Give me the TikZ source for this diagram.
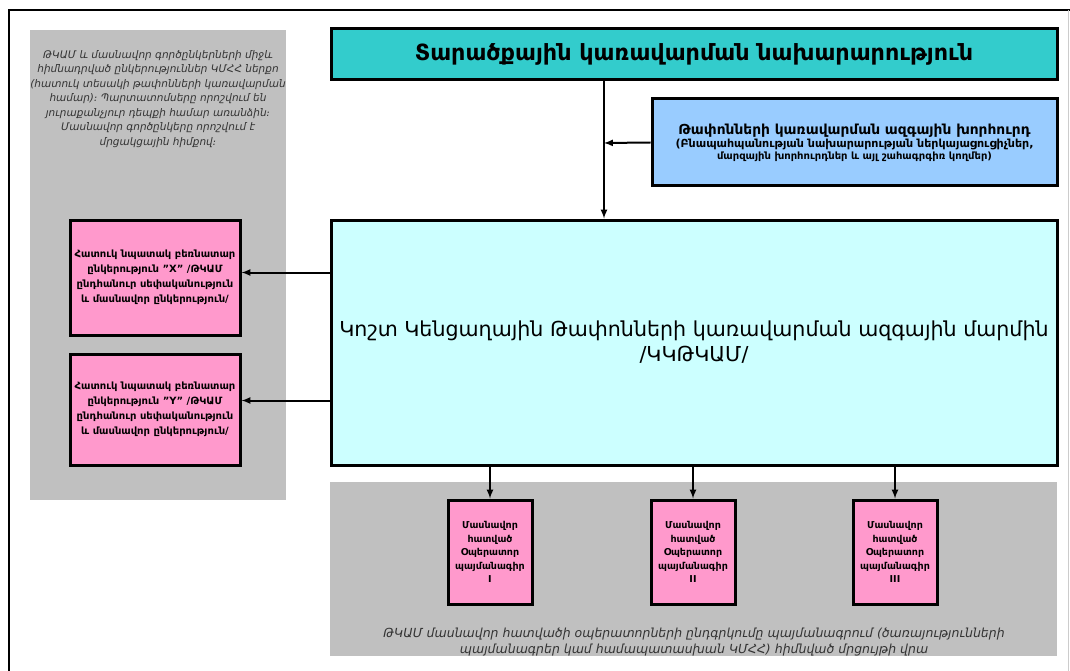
\documentclass[tikz,border=0pt]{standalone}
\usepackage{fontspec}
\setmainfont{DejaVu Sans}
\usetikzlibrary{positioning}
\definecolor{teal1}{HTML}{33CCCC}
\definecolor{sky1}{HTML}{99CCFF}
\definecolor{cyan1}{HTML}{CCFFFF}
\definecolor{pink1}{HTML}{FF99CC}
\definecolor{panel}{HTML}{C0C0C0}
\definecolor{note}{HTML}{333333}

\begin{document}
\begin{tikzpicture}[x=1pt, y=-1pt, >=latex,
  box/.style={draw=black, line width=3pt, align=center, inner sep=2pt},
  arr/.style={->, line width=2pt},
  notetext/.style={align=center, text=note, font=\itshape\fontsize{10.5}{14.5}\selectfont}]
\useasboundingbox (0,0) rectangle (1070,671);
% frame and grey panels
\draw[line width=2pt] (9,671) -- (9,10) -- (1070,10);
\draw[gray!40, line width=1pt] (1068,10) -- (1068,671);
\fill[panel] (30,30) rectangle (286,500);
\fill[panel] (330,482) rectangle (1057,656);
% boxes
\node[box, fill=teal1, minimum width=726pt, minimum height=51pt, font=\bfseries\fontsize{22.3}{26}\selectfont] (top) at (694,54.5) {Տարածքային կառավարման նախարարություն};
\node[box, fill=sky1, minimum width=405pt, minimum height=87pt, font=\bfseries] (coun) at (854.5,142.5)
  {\fontsize{13.8}{19}\selectfont Թափոնների կառավարման ազգային խորհուրդ\\[1pt]
   \fontsize{11.1}{16}\selectfont (Բնապահպանության նախարարության ներկայացուցիչներ,\\ մարզային խորհուրդներ և այլ շահագրգիռ կողմեր)};
\node[box, fill=cyan1, minimum width=726pt, minimum height=245pt, font=\fontsize{20.6}{25}\selectfont] (body) at (694,342.5)
  {Կոշտ Կենցաղային Թափոնների կառավարման ազգային մարմին\\ /ԿԿԹԿԱՄ/};
\node[box, fill=pink1, minimum width=170pt, minimum height=115pt, font=\bfseries\fontsize{10}{15}\selectfont] (compX) at (155,277.5)
  {Հատուկ նպատակ բեռնատար\\ ընկերություն "X" /ԹԿԱՄ\\ ընդհանուր սեփականություն\\ և մասնավոր ընկերություն/};
\node[box, fill=pink1, minimum width=170pt, minimum height=111pt, font=\bfseries\fontsize{10}{15}\selectfont] (compY) at (155,409.5)
  {Հատուկ նպատակ բեռնատար\\ ընկերություն "Y" /ԹԿԱՄ\\ ընդհանուր սեփականություն\\ և մասնավոր ընկերություն/};
\node[box, fill=pink1, minimum width=84pt, minimum height=104pt, font=\bfseries\fontsize{9.5}{13.5}\selectfont] (op1) at (490,552)
  {Մասնավոր\\ հատված\\ Օպերատոր\\ պայմանագիր\\ I};
\node[box, fill=pink1, minimum width=84pt, minimum height=104pt, font=\bfseries\fontsize{9.5}{13.5}\selectfont] (op2) at (693,552)
  {Մասնավոր\\ հատված\\ Օպերատոր\\ պայմանագիր\\ II};
\node[box, fill=pink1, minimum width=84pt, minimum height=104pt, font=\bfseries\fontsize{9.5}{13.5}\selectfont] (op3) at (895,552)
  {Մասնավոր\\ հատված\\ Օպերատոր\\ պայմանագիր\\ III};
% notes
\node[notetext] (ppp) at (158,99)
  {ԹԿԱՄ և մասնավոր գործընկերների միջև\\ հիմնադրված ընկերություններ ԿՄՀՀ ներքո\\ (հատուկ տեսակի թափոնների կառավարման\\ համար)։ Պարտատոմսերը որոշվում են\\ յուրաքանչյուր դեպքի համար առանձին։\\ Մասնավոր գործընկերը  որոշվում է\\ մրցակցային հիմքով։};
\node[notetext, font=\itshape\fontsize{12.5}{16}\selectfont] (tender) at (694,642)
  {ԹԿԱՄ մասնավոր հատվածի օպերատորների ընդգրկումը պայմանագրում (ծառայությունների\\ պայմանագրեր կամ համապատասխան ԿՄՀՀ) հիմնված մրցույթի վրա};
% connectors
\coordinate (j) at (604,143);
\draw[arr] (top.south -| j) -- (body.north -| j);
\draw[arr] (coun.west) -- (j);
\draw[arr] ([yshift=5pt]compX.east -| body.west) -- ([yshift=5pt]compX.east);
\draw[arr] ([yshift=9pt]compY.east -| body.west) -- ([yshift=9pt]compY.east);
\draw[arr] (body.south -| op1.north) -- (op1.north);
\draw[arr] (body.south -| op2.north) -- (op2.north);
\draw[arr] (body.south -| op3.north) -- (op3.north);
\end{tikzpicture}
\end{document}
